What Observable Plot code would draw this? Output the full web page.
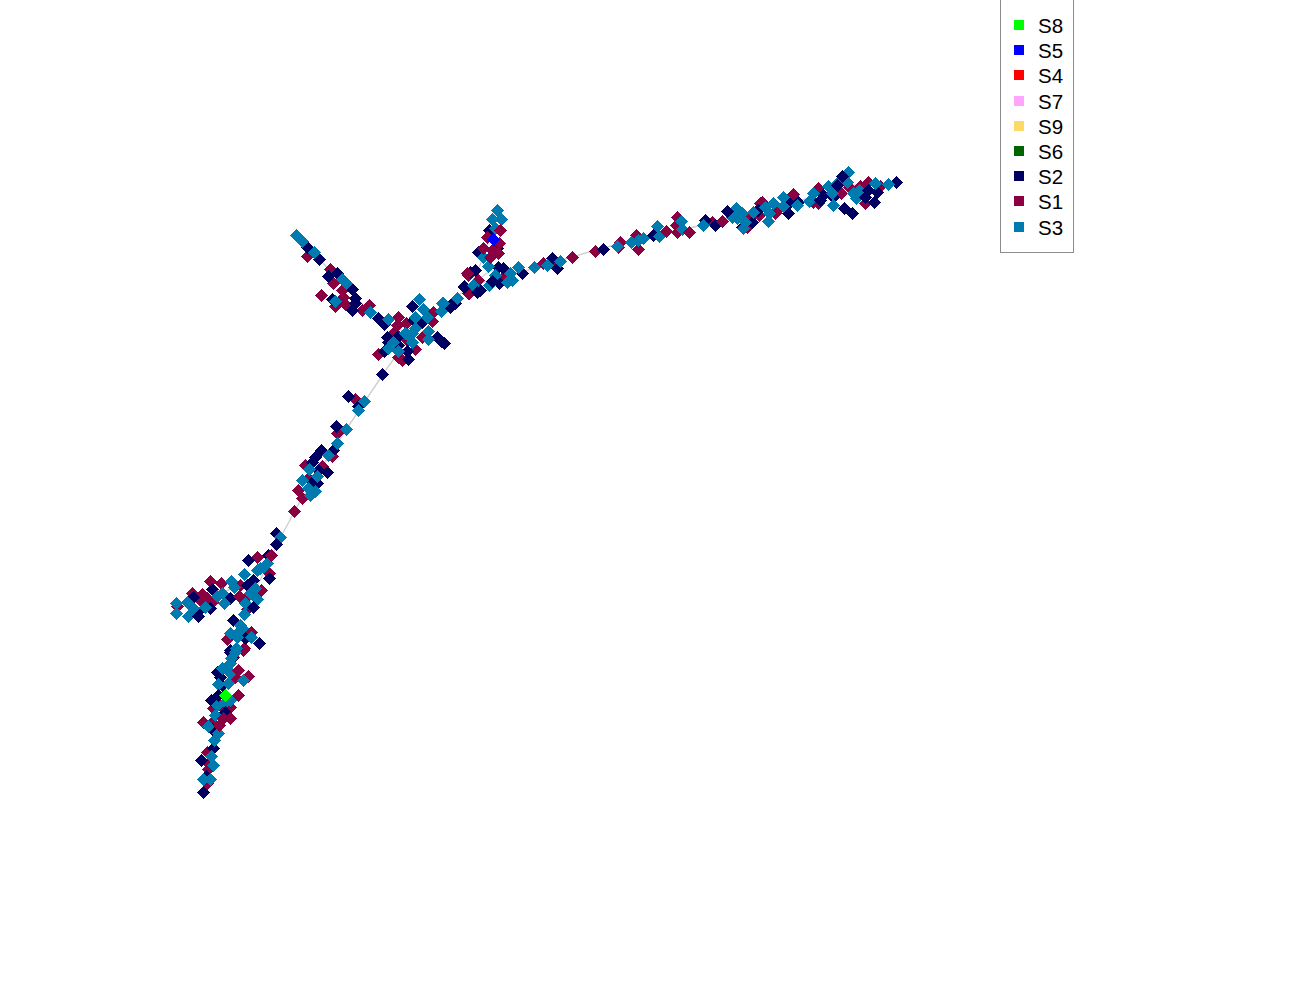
<!DOCTYPE html>
<html><head><meta charset="utf-8">
<script src="https://cdn.jsdelivr.net/npm/d3@7"></script>
<script src="https://cdn.jsdelivr.net/npm/@observablehq/plot@0.6"></script>
<style>
html,body{margin:0;padding:0;background:#fff;}
#wrap{position:relative;width:1300px;height:1000px;overflow:hidden;}
#wrap svg{position:absolute;left:0;top:0;}
#legend{position:absolute;left:1000px;top:-1px;width:72px;height:252px;border:1px solid #8c8c8c;background:#fff;font-family:"Liberation Sans",Arial,sans-serif;font-size:20.5px;color:#000;}
#legend div{position:absolute;left:37px;line-height:22px;height:22px;}
#legend i{position:absolute;left:-24px;top:5px;width:10px;height:10px;display:block;}
</style></head><body>
<div id="wrap"><div id="plot"></div><div id="legend"></div></div>
<script>
const legendNames=["S8","S5","S4","S7","S9","S6","S2","S1","S3"];
const legendColors=["#00ff00","#0000ff","#ff0000","#ffa6ff","#ffd966","#006400","#000060","#8b0040","#007bb0"];
const legendRows=[25,50,75,101,126,151,176,201,227];

const s1=[[257,557],[210,581],[221,583],[192,593],[202,594],[207,598],[200,600],[212,602],[177,606],[261,590],[247,596],[247,609],[269,573],[240,585],[227,639],[251,632],[244,648],[233,657],
[243,650],[248,676],[235,677],[238,695],[213,708],[220,705],[230,707],[203,722],[212,722],[207,752],[208,769],[208,763],[207,783],
[307,256],[330,269],[333,283],[342,290],[321,295],[343,297],[345,304],[335,306],[362,310],[369,305],[398,317],[397,325],[406,323],[394,332],[432,321],[433,312],[468,293],[407,340],[378,354],[415,349],[398,357],[402,360],[422,337],
[468,275],[478,280],[469,293],[572,257],[553,260],[543,263],[503,277],
[595,251],[620,242],[618,247],[638,249],[636,235],[677,217],[676,225],[677,232],[712,222],[750,217],[747,227],[760,203],
[762,202],[793,194],[795,199],[777,210],[775,213],[759,215],[818,188],[818,203],[813,202],[841,193],[849,187],[860,186],[868,182],[880,186],[865,203],
[355,399],[337,433],[322,466],[305,465],[308,478],[298,490],[302,498],[294,511],[332,456]];

const s2=[[276,533],[269,578],[212,589],[230,598],[247,585],[253,580],[193,597],[197,612],[210,608],[233,620],[259,643],[245,638],[230,650],[268,555],
[230,652],[232,658],[217,672],[220,677],[222,685],[211,700],[212,729],[213,748],[201,760],[203,792],[206,776],
[307,247],[319,259],[337,273],[328,276],[352,289],[332,299],[378,318],[384,324],[412,306],[422,322],[450,307],[455,303],[464,286],[437,337],[441,341],[444,343],[387,337],[388,342],[398,345],[384,351],[407,351],[408,359],[382,374],[397,337],[413,320],
[489,230],[478,252],[497,248],[498,267],[503,268],[475,270],[470,272],[522,273],[557,268],[552,258],[499,283],[464,287],[480,290],[450,305],[453,302],
[603,249],[653,235],[715,225],[705,220],[752,222],[742,227],[758,210],
[757,210],[788,213],[789,203],[823,195],[833,197],[874,202],[877,192],[896,182],[798,202],
[348,396],[358,406],[336,426],[333,450],[321,450],[315,457],[312,462],[327,472],[318,470],[312,482],[317,483]];

const s3=[[280,537],[244,574],[260,568],[267,563],[263,567],[257,570],[231,581],[234,587],[222,593],[217,596],[224,603],[187,602],[176,603],[176,613],[193,608],[188,616],[205,607],[255,588],[250,593],[257,599],[245,603],[244,614],[240,625],[242,628],[238,632],[230,633],[237,637],[251,637],[236,648],[231,658],
[235,652],[230,663],[228,670],[222,668],[230,673],[243,680],[218,684],[228,683],[230,700],[225,702],[217,705],[215,715],[208,726],[218,733],[214,740],[211,756],[213,765],[203,779],[210,779],
[296,235],[302,241],[314,252],[342,279],[346,283],[335,301],[370,312],[388,319],[419,299],[423,309],[415,317],[427,317],[442,303],[441,311],[457,298],[428,331],[428,339],[415,328],[412,333],[408,335],[405,333],[412,342],[393,342],[388,348],[398,351],
[497,210],[492,219],[501,219],[495,228],[483,257],[488,266],[518,267],[534,267],[547,265],[560,261],[510,273],[507,282],[512,280],[495,275],[473,285],[489,285],[443,303],
[617,246],[631,242],[638,240],[643,238],[657,226],[659,236],[681,221],[682,229],[703,225],[736,208],[732,217],[742,213],[737,218],[745,222],[743,228],
[848,172],[828,186],[832,193],[837,183],[813,193],[809,201],[833,205],[783,197],[783,206],[797,205],[773,203],[765,207],[769,213],[768,221],[847,182],[853,193],[859,190],[856,198],[875,183],[888,184],[753,212],
[364,401],[358,410],[346,429],[337,443],[328,455],[309,469],[317,476],[302,480],[308,488],[315,491],[310,495]];

// points that sit above the teal series in the reference
const s2Top=[[276,544],[248,560],[198,616],[253,607],[218,695],[225,712],
[355,298],[355,303],[352,310],[492,281],[477,292],
[727,211],[820,200],[842,176],[837,185],[844,208],[852,213],[865,197],[868,190]];
const s1Top=[[271,555],[239,596],[238,670],[230,718],[223,718],[219,725],
[467,273],[500,230],[487,237],[499,243],[483,248],[492,250],[498,253],[490,257],
[666,231],[689,232],[722,221]];

const s8=[[225,695]];
const s5=[[493,239]];

const trunk=[[203,790],[212,745],[225,695],[240,625],[250,600],[280,537],[300,500],[345,430],[385,370],[410,335],[470,285],[510,275],[560,260],[600,248],[700,225],[800,200],[850,185],[895,182]];
const branchA=[[176,608],[215,595],[250,580]];
const branchB=[[296,235],[370,312],[410,335]];
const branchC=[[497,210],[483,257],[470,285]];
const branchD=[[470,285],[490,270],[520,272]];

const diamonds=(pts,color)=>Plot.dot(pts,{x:d=>d[0],y:d=>d[1],symbol:"diamond2",r:5.7,fill:color,stroke:"none",shapeRendering:"crispEdges"});
const edge=(pts)=>Plot.line(pts,{x:d=>d[0],y:d=>d[1],stroke:"#d0d0d0",strokeWidth:1.4,curve:"linear"});

const chart=Plot.plot({
  width:1300,height:1000,margin:0,
  x:{domain:[0,1300],range:[0,1300],axis:null},
  y:{domain:[0,1000],range:[0,1000],axis:null},
  marks:[
    edge(trunk),edge(branchA),edge(branchB),edge(branchC),edge(branchD),
    diamonds(s1,legendColors[7]),
    diamonds(s2,legendColors[6]),
    diamonds(s3,legendColors[8]),
    diamonds(s2Top,legendColors[6]),
    diamonds(s1Top,legendColors[7]),
    diamonds(s5,legendColors[1]),
    diamonds(s8,legendColors[0])
  ]
});
document.getElementById("plot").appendChild(chart);
const lg=document.getElementById("legend");
legendNames.forEach((n,i)=>{
  const row=document.createElement("div");
  row.style.top=(legendRows[i]-10)+"px";
  row.innerHTML='<i style="background:'+legendColors[i]+'"></i>'+n;
  lg.appendChild(row);
});
</script></body></html>
